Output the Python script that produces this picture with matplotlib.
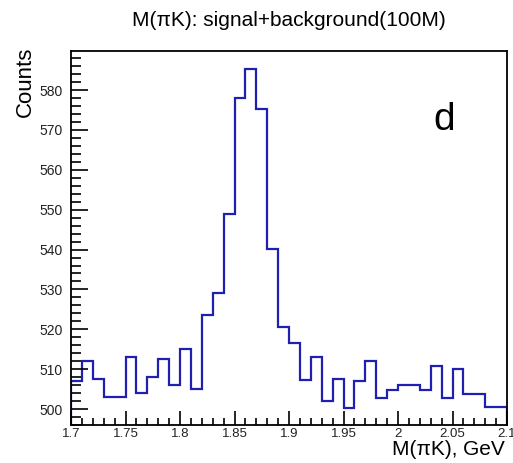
import numpy as np
import matplotlib
matplotlib.use('Agg')
import matplotlib.pyplot as plt
from matplotlib.ticker import MultipleLocator

plt.rcParams['font.family'] = ['Liberation Sans', 'DejaVu Sans']

# histogram: 40 bins of 10 MeV from 1.70 to 2.10 GeV
edges = np.round(np.arange(1.70, 2.1001, 0.01), 2)
counts = [507, 512, 507.6, 503, 503, 513, 504, 508, 512.6, 506,
          515, 505, 523.5, 529, 549, 578, 585.3, 575.2, 540.2, 520.5,
          516.5, 507.3, 513, 502, 507.6, 500.2, 507, 512, 502.8, 504.8,
          506, 506, 504.7, 510.7, 502.8, 510, 503.7, 503.7, 500.6, 500.6]

title = 'M(\u03c0K): signal+background(100M)'
xlabel = 'M(\u03c0K), GeV'
ylabel = 'Counts'
panel = 'd'

W, H = 513, 463
fig = plt.figure(figsize=(W / 100, H / 100), dpi=100)
ax = fig.add_axes([71 / W, 38 / H, 436 / W, 374 / H])

ax.stairs(counts, edges, color='#2020b0', linewidth=1.6)

ax.set_xlim(1.70, 2.10)
ax.set_ylim(496, 589.8)

ax.xaxis.set_major_locator(MultipleLocator(0.05))
ax.xaxis.set_minor_locator(MultipleLocator(0.01))
ax.yaxis.set_major_locator(MultipleLocator(10))
ax.yaxis.set_minor_locator(MultipleLocator(2))
ax.xaxis.set_major_formatter(plt.FuncFormatter(lambda v, p: ('%g' % round(v, 2))))

ax.tick_params(axis='both', which='both', direction='in', top=False, right=False,
               colors='black', labelcolor='#222222', width=1.2)
ax.tick_params(axis='x', which='major', length=10, pad=2, labelsize=9.5)
ax.tick_params(axis='x', which='minor', length=5)
ax.tick_params(axis='y', which='major', length=12, pad=6, labelsize=10)
ax.tick_params(axis='y', which='minor', length=7)
for s in ax.spines.values():
    s.set_linewidth(1.3)

# title centred over the frame
fig.text(289 / W, 1 - 20 / H, title, ha='center', va='center', fontsize=15)
fig.text(505 / W, 1 - 455 / H, xlabel, ha='right', va='baseline', fontsize=15)
fig.text(25 / W, 1 - 47 / H, ylabel, ha='center', va='top', rotation=90, fontsize=16)
ax.text(0.855, 0.815, panel, transform=ax.transAxes, fontsize=28, ha='center', va='center')

fig.savefig('out.png', dpi=100)
